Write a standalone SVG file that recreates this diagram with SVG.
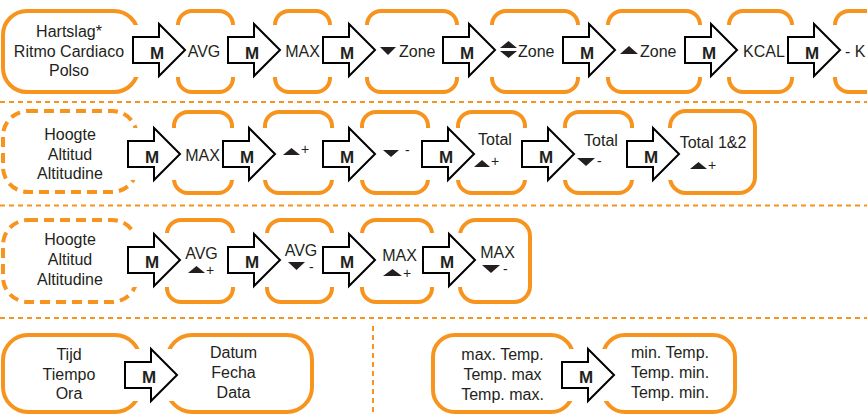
<svg xmlns="http://www.w3.org/2000/svg" width="867" height="415" viewBox="0 0 867 415">
<style>
.box{fill:none;stroke:#F7941E;stroke-width:4}
.dbox{fill:none;stroke:#F7941E;stroke-width:4;stroke-dasharray:10 6}
.sep{fill:none;stroke:#F7941E;stroke-width:2;stroke-dasharray:5 4}
.arr{fill:#fff;stroke:#000;stroke-width:2;stroke-linejoin:miter}
.t{font-family:"Liberation Sans",Arial,Helvetica,sans-serif;font-size:16px;fill:#231F20}
.c{text-anchor:middle}
.m{font-family:"Liberation Sans",Arial,Helvetica,sans-serif;font-size:17px;font-weight:bold;fill:#231F20;text-anchor:middle}
.s{font-family:"Liberation Sans",Arial,Helvetica,sans-serif;font-size:14px;fill:#231F20}
.tri{fill:#231F20}
</style>
<defs>
<mask id="gaps" maskUnits="userSpaceOnUse" x="0" y="0" width="867" height="415">
<rect x="0" y="0" width="867" height="415" fill="#fff"/>
<g fill="#000">
<rect x="131" y="25" width="56" height="52"/>
<rect x="226" y="25" width="56" height="52"/>
<rect x="321" y="25" width="56" height="52"/>
<rect x="441" y="25" width="56" height="52"/>
<rect x="561" y="25" width="56" height="52"/>
<rect x="683" y="25" width="56" height="52"/>
<rect x="786" y="25" width="56" height="52"/>
<rect x="126" y="128" width="56" height="52"/>
<rect x="221" y="128" width="56" height="52"/>
<rect x="321" y="128" width="56" height="52"/>
<rect x="420" y="128" width="56" height="52"/>
<rect x="520" y="128" width="56" height="52"/>
<rect x="625" y="128" width="56" height="52"/>
<rect x="126" y="233" width="56" height="54"/>
<rect x="226" y="233" width="56" height="54"/>
<rect x="321" y="233" width="56" height="54"/>
<rect x="421" y="233" width="56" height="54"/>
<rect x="123" y="349" width="56" height="52"/>
<rect x="560" y="349" width="56" height="52"/>
</g>
</mask>
</defs>

<g id="separators">
<line class="sep" x1="0" y1="102" x2="867" y2="102"/>
<line class="sep" x1="0" y1="205.5" x2="867" y2="205.5"/>
<line class="sep" x1="0" y1="318" x2="867" y2="318"/>
<line class="sep" x1="373" y1="326" x2="373" y2="415"/>
</g>

<!-- Row 1 -->
<g id="hartslag">
<rect class="box" x="3" y="11" width="135" height="81" rx="24" mask="url(#gaps)"/>
<text class="t c" x="69" y="37">Hartslag*</text>
<text class="t c" x="69" y="56.5">Ritmo Cardiaco</text>
<text class="t c" x="69" y="76">Polso</text>
</g>
<g id="avg1">
<rect class="box" x="178" y="11" width="55" height="81" rx="14" mask="url(#gaps)"/>
<text class="t c" x="204" y="56.5">AVG</text>
</g>
<g id="max1">
<rect class="box" x="275" y="11" width="55" height="81" rx="14" mask="url(#gaps)"/>
<text class="t c" x="302.5" y="56.5">MAX</text>
</g>
<g id="zone-down">
<rect class="box" x="367" y="11" width="90" height="81" rx="14" mask="url(#gaps)"/>
<polygon class="tri" points="380,47 396,47 388,55"/>
<text class="t" x="399" y="56.5">Zone</text>
</g>
<g id="zone-updown">
<rect class="box" x="492" y="11" width="86" height="81" rx="14" mask="url(#gaps)"/>
<polygon class="tri" points="500,48 517,48 508.5,41"/>
<polygon class="tri" points="500,51 517,51 508.5,58"/>
<text class="t" x="518" y="56.5">Zone</text>
</g>
<g id="zone-up">
<rect class="box" x="608" y="11" width="92" height="81" rx="14" mask="url(#gaps)"/>
<polygon class="tri" points="620,54 638,54 629,46"/>
<text class="t" x="640" y="56.5">Zone</text>
</g>
<g id="kcal">
<rect class="box" x="729" y="11" width="63" height="81" rx="14" mask="url(#gaps)"/>
<text class="t" x="743" y="56.5">KCAL</text>
</g>
<g id="minus-kcal">
<rect class="box" x="835" y="11" width="80" height="81" rx="14" mask="url(#gaps)"/>
<text class="t" x="845" y="56.5">- K</text>
</g>

<!-- Row 2 -->
<g id="hoogte1">
<rect class="dbox" x="3" y="111" width="134" height="81" rx="25" mask="url(#gaps)"/>
<text class="t c" x="70" y="140">Hoogte</text>
<text class="t c" x="70" y="159.5">Altitud</text>
<text class="t c" x="70" y="178.5">Altitudine</text>
</g>
<g id="max2">
<rect class="box" x="174" y="112" width="58" height="81" rx="14" mask="url(#gaps)"/>
<text class="t c" x="202.5" y="161">MAX</text>
</g>
<g id="up-plus">
<rect class="box" x="265" y="112" width="67" height="81" rx="14" mask="url(#gaps)"/>
<polygon class="tri" points="283,155 300,155 291.5,148"/>
<text class="s" x="301" y="154">+</text>
</g>
<g id="down-minus">
<rect class="box" x="362" y="112" width="66" height="81" rx="14" mask="url(#gaps)"/>
<polygon class="tri" points="383,150 399,150 391,157"/>
<text class="s" x="405" y="155">-</text>
</g>
<g id="total-up">
<rect class="box" x="458" y="112" width="67" height="81" rx="14" mask="url(#gaps)"/>
<text class="t c" x="495" y="145">Total</text>
<polygon class="tri" points="474,167 490,167 482,160"/>
<text class="s" x="491" y="166">+</text>
</g>
<g id="total-down">
<rect class="box" x="565" y="112" width="67" height="81" rx="14" mask="url(#gaps)"/>
<text class="t c" x="601" y="146">Total</text>
<polygon class="tri" points="577,158 595,158 586,166"/>
<text class="s" x="597" y="166">-</text>
</g>
<g id="total12">
<rect class="box" x="670" y="111" width="85" height="82" rx="16" mask="url(#gaps)"/>
<text class="t c" x="713" y="148">Total 1&amp;2</text>
<polygon class="tri" points="690,169 707,169 698.5,162"/>
<text class="s" x="708" y="170">+</text>
</g>

<!-- Row 3 -->
<g id="hoogte2">
<rect class="dbox" x="3" y="220" width="134" height="82" rx="25" mask="url(#gaps)"/>
<text class="t c" x="70" y="245">Hoogte</text>
<text class="t c" x="70" y="264.5">Altitud</text>
<text class="t c" x="70" y="284.5">Altitudine</text>
</g>
<g id="avg-up">
<rect class="box" x="167" y="220" width="66" height="82" rx="14" mask="url(#gaps)"/>
<text class="t c" x="201.5" y="258.5">AVG</text>
<polygon class="tri" points="188,273 205,273 196.5,266"/>
<text class="s" x="206" y="275">+</text>
</g>
<g id="avg-down">
<rect class="box" x="267" y="220" width="65" height="82" rx="14" mask="url(#gaps)"/>
<text class="t c" x="301" y="255.5">AVG</text>
<polygon class="tri" points="288,262 305,262 296.5,270"/>
<text class="s" x="309" y="272">-</text>
</g>
<g id="max-up">
<rect class="box" x="362" y="220" width="70" height="82" rx="14" mask="url(#gaps)"/>
<text class="t c" x="399.5" y="261">MAX</text>
<polygon class="tri" points="383,276 402,276 392.5,269"/>
<text class="s" x="403" y="277.5">+</text>
</g>
<g id="max-down">
<rect class="box" x="460" y="220" width="70" height="82" rx="16" mask="url(#gaps)"/>
<text class="t c" x="497.5" y="257.5">MAX</text>
<polygon class="tri" points="482,265 500,265 491,273"/>
<text class="s" x="503" y="274">-</text>
</g>

<!-- Row 4 -->
<g id="tijd">
<rect class="box" x="3" y="335" width="137" height="77" rx="25" mask="url(#gaps)"/>
<text class="t c" x="69" y="360">Tijd</text>
<text class="t c" x="69" y="380">Tiempo</text>
<text class="t c" x="69" y="399">Ora</text>
</g>
<g id="datum">
<rect class="box" x="167" y="335" width="145" height="77" rx="25" mask="url(#gaps)"/>
<text class="t c" x="233.5" y="358">Datum</text>
<text class="t c" x="233.5" y="378">Fecha</text>
<text class="t c" x="233.5" y="398">Data</text>
</g>
<g id="max-temp">
<rect class="box" x="433" y="335" width="140" height="77" rx="22" mask="url(#gaps)"/>
<text class="t c" x="502.5" y="360">max. Temp.</text>
<text class="t c" x="502.5" y="380">Temp. max</text>
<text class="t c" x="502.5" y="400">Temp. max.</text>
</g>
<g id="min-temp">
<rect class="box" x="603" y="335" width="132" height="77" rx="22" mask="url(#gaps)"/>
<text class="t c" x="670" y="358">min. Temp.</text>
<text class="t c" x="670" y="378">Temp. min.</text>
<text class="t c" x="670" y="398">Temp. min.</text>
</g>

<g id="connectors">
<path class="arr" d="M133,37H159V24L185,50L159,76V63H133Z"/>
<path class="arr" d="M228,37H254V24L280,50L254,76V63H228Z"/>
<path class="arr" d="M323,37H349V24L375,50L349,76V63H323Z"/>
<path class="arr" d="M443,37H469V24L495,50L469,76V63H443Z"/>
<path class="arr" d="M563,37H589V24L615,50L589,76V63H563Z"/>
<path class="arr" d="M685,37H711V24L737,50L711,76V63H685Z"/>
<path class="arr" d="M788,37H814V24L840,50L814,76V63H788Z"/>
<path class="arr" d="M128,141H154V128L180,154L154,180V167H128Z"/>
<path class="arr" d="M223,141H249V128L275,154L249,180V167H223Z"/>
<path class="arr" d="M323,141H349V128L375,154L349,180V167H323Z"/>
<path class="arr" d="M422,141H448V128L474,154L448,180V167H422Z"/>
<path class="arr" d="M522,141H548V128L574,154L548,180V167H522Z"/>
<path class="arr" d="M627,141H653V128L679,154L653,180V167H627Z"/>
<path class="arr" d="M128,247H154V234L180,260L154,286V273H128Z"/>
<path class="arr" d="M228,247H254V234L280,260L254,286V273H228Z"/>
<path class="arr" d="M323,247H349V234L375,260L349,286V273H323Z"/>
<path class="arr" d="M423,247H449V234L475,260L449,286V273H423Z"/>
<path class="arr" d="M125,362H151V349L177,375L151,401V388H125Z"/>
<path class="arr" d="M562,362H588V349L614,375L588,401V388H562Z"/>
<text class="m" x="157" y="58.5">M</text>
<text class="m" x="252" y="58.5">M</text>
<text class="m" x="347" y="58.5">M</text>
<text class="m" x="467" y="58.5">M</text>
<text class="m" x="587" y="58.5">M</text>
<text class="m" x="709" y="58.5">M</text>
<text class="m" x="812" y="58.5">M</text>
<text class="m" x="152" y="162.5">M</text>
<text class="m" x="247" y="162.5">M</text>
<text class="m" x="347" y="162.5">M</text>
<text class="m" x="446" y="162.5">M</text>
<text class="m" x="546" y="162.5">M</text>
<text class="m" x="651" y="162.5">M</text>
<text class="m" x="152" y="268">M</text>
<text class="m" x="252" y="268">M</text>
<text class="m" x="347" y="268">M</text>
<text class="m" x="447" y="268">M</text>
<text class="m" x="149" y="383">M</text>
<text class="m" x="586" y="383">M</text>
</g>
</svg>
